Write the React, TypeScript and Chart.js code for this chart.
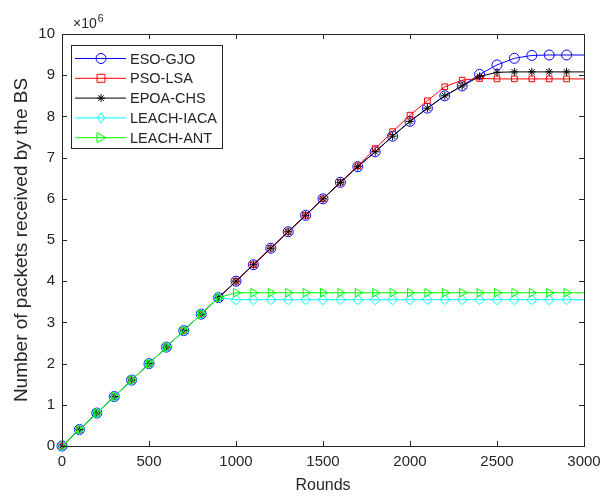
import React, { useEffect, useRef } from "react";
import { Chart, registerables } from "chart.js";

Chart.register(...registerables);

const rounds = [0, 100, 200, 300, 400, 500, 600, 700, 800, 900, 1000, 1100, 1200, 1300, 1400, 1500, 1600, 1700, 1800, 1900, 2000, 2100, 2200, 2300, 2400, 2500, 2600, 2700, 2800, 2900, 3000];

// values in units of 10^6 packets
const esoGjo = [0, 0.4, 0.8, 1.2, 1.6, 2.0, 2.4, 2.8, 3.2, 3.6, 4.0, 4.4, 4.8, 5.2, 5.6, 6.0, 6.4, 6.78, 7.14, 7.52, 7.88, 8.2, 8.5, 8.74, 9.02, 9.25, 9.41, 9.48, 9.49, 9.49, 9.49];
const psoLsa = [0, 0.4, 0.8, 1.2, 1.6, 2.0, 2.4, 2.8, 3.2, 3.6, 4.0, 4.4, 4.8, 5.2, 5.6, 6.0, 6.4, 6.8, 7.22, 7.63, 8.03, 8.38, 8.72, 8.88, 8.92, 8.91, 8.91, 8.91, 8.91, 8.91, 8.91];
const epoaChs = [0, 0.4, 0.8, 1.2, 1.6, 2.0, 2.4, 2.8, 3.2, 3.6, 4.0, 4.4, 4.8, 5.2, 5.6, 6.0, 6.4, 6.78, 7.14, 7.52, 7.88, 8.2, 8.5, 8.74, 8.97, 9.07, 9.08, 9.08, 9.08, 9.08, 9.08];
const leachIaca = [0, 0.4, 0.8, 1.2, 1.6, 2.0, 2.4, 2.8, 3.2, 3.6, 3.55, 3.55, 3.55, 3.55, 3.55, 3.55, 3.55, 3.55, 3.55, 3.55, 3.55, 3.55, 3.55, 3.55, 3.55, 3.55, 3.55, 3.55, 3.55, 3.55, 3.55];
const leachAnt = [0, 0.4, 0.8, 1.2, 1.6, 2.0, 2.4, 2.8, 3.2, 3.6, 3.72, 3.72, 3.72, 3.72, 3.72, 3.72, 3.72, 3.72, 3.72, 3.72, 3.72, 3.72, 3.72, 3.72, 3.72, 3.72, 3.72, 3.72, 3.72, 3.72, 3.72];

const seriesNames = ["ESO-GJO", "PSO-LSA", "EPOA-CHS", "LEACH-IACA", "LEACH-ANT"];
const xTicks = [0, 500, 1000, 1500, 2000, 2500, 3000];
const yTicks = [0, 1, 2, 3, 4, 5, 6, 7, 8, 9, 10];
const xTitle = "Rounds";
const yTitle = "Number of packets received by the BS";
const exponentBase = "×10";
const exponentPower = "6";

const FONT = "'Liberation Sans', Arial, sans-serif";
const AXIS = "#262626";

type Marker = "circle" | "square" | "star" | "diamond" | "tri";

const styles: { color: string; marker: Marker; r: number }[] = [
  { color: "#0000ff", marker: "circle", r: 5 },
  { color: "#ff0000", marker: "square", r: 4 },
  { color: "#000000", marker: "star", r: 4 },
  { color: "#00ffff", marker: "diamond", r: 5 },
  { color: "#00ff00", marker: "tri", r: 5 },
];

function drawMarker(ctx: CanvasRenderingContext2D, m: Marker, x: number, y: number, r: number, color: string) {
  ctx.save();
  ctx.strokeStyle = color;
  ctx.lineWidth = 1;
  ctx.beginPath();
  if (m === "circle") {
    ctx.arc(x, y, r, 0, Math.PI * 2);
  } else if (m === "square") {
    ctx.rect(x - r, y - r, 2 * r, 2 * r);
  } else if (m === "star") {
    ctx.moveTo(x - r, y); ctx.lineTo(x + r, y);
    ctx.moveTo(x, y - r); ctx.lineTo(x, y + r);
    const d = r * 0.707;
    ctx.moveTo(x - d, y - d); ctx.lineTo(x + d, y + d);
    ctx.moveTo(x - d, y + d); ctx.lineTo(x + d, y - d);
  } else if (m === "diamond") {
    ctx.moveTo(x, y - r); ctx.lineTo(x + r * 0.75, y); ctx.lineTo(x, y + r); ctx.lineTo(x - r * 0.75, y); ctx.closePath();
  } else {
    ctx.moveTo(x + r, y); ctx.lineTo(x - r * 0.8, y - r); ctx.lineTo(x - r * 0.8, y + r); ctx.closePath();
  }
  ctx.stroke();
  ctx.restore();
}

const pointStyleFor = (m: Marker) =>
  m === "circle" ? "circle" : m === "square" ? "rect" : m === "star" ? "star" : m === "diamond" ? "rectRot" : "triangle";

const decorPlugin = {
  id: "decor",
  afterDatasetsDraw(chart: any) {
    const { ctx, chartArea: a, scales } = chart;
    ctx.save();
    ctx.strokeStyle = AXIS;
    ctx.lineWidth = 1;
    ctx.beginPath();
    const tl = 5;
    for (const v of xTicks) {
      const px = Math.round(scales.x.getPixelForValue(v)) + 0.5;
      ctx.moveTo(px, a.bottom); ctx.lineTo(px, a.bottom - tl);
      ctx.moveTo(px, a.top); ctx.lineTo(px, a.top + tl);
    }
    for (const v of yTicks) {
      const py = Math.round(scales.y.getPixelForValue(v)) + 0.5;
      ctx.moveTo(a.left, py); ctx.lineTo(a.left + tl, py);
      ctx.moveTo(a.right, py); ctx.lineTo(a.right - tl, py);
    }
    ctx.stroke();
    ctx.strokeRect(Math.round(a.left) + 0.5, Math.round(a.top) + 0.5, Math.round(a.right - a.left), Math.round(a.bottom - a.top));
    ctx.restore();
  },
  afterDraw(chart: any) {
    const { ctx, chartArea: a } = chart;
    ctx.save();
    // exponent label
    ctx.fillStyle = AXIS;
    ctx.textBaseline = "alphabetic";
    ctx.textAlign = "left";
    ctx.font = `14px ${FONT}`;
    ctx.fillText(exponentBase, a.left + 11, 28);
    const w = ctx.measureText(exponentBase).width;
    ctx.font = `10.5px ${FONT}`;
    ctx.fillText(exponentPower, a.left + 11 + w + 1, 22);

    // legend
    const bx = 71.5, by = 45.5, bw = 151, bh = 103;
    ctx.fillStyle = "#ffffff";
    ctx.fillRect(bx, by, bw, bh);
    ctx.strokeStyle = AXIS;
    ctx.lineWidth = 1;
    ctx.strokeRect(bx, by, bw, bh);
    ctx.font = `14.5px ${FONT}`;
    ctx.textBaseline = "middle";
    seriesNames.forEach((name, i) => {
      const y = 58.5 + i * 19.8;
      const s = styles[i];
      ctx.strokeStyle = s.color;
      ctx.lineWidth = 1;
      ctx.beginPath();
      ctx.moveTo(75, y); ctx.lineTo(126, y);
      ctx.stroke();
      drawMarker(ctx, s.marker, 101, y, s.r, s.color);
      ctx.fillStyle = AXIS;
      ctx.fillText(name, 130, y + 1);
    });
    ctx.restore();
  },
};

export default function App() {
  const ref = useRef<HTMLCanvasElement | null>(null);
  useEffect(() => {
    document.body.style.margin = "0";
    const series = [esoGjo, psoLsa, epoaChs, leachIaca, leachAnt];
    const last = rounds.length - 1;
    const datasets = series.map((vals, i) => ({
      label: seriesNames[i],
      data: rounds.map((r, j) => ({ x: r, y: vals[j] })),
      borderColor: styles[i].color,
      backgroundColor: "transparent",
      borderWidth: 1,
      pointStyle: pointStyleFor(styles[i].marker),
      pointRotation: styles[i].marker === "tri" ? 90 : 0,
      pointRadius: (c: any) => (c.dataIndex === last ? 0 : styles[i].r),
      pointBorderColor: styles[i].color,
      pointBackgroundColor: "transparent",
      pointBorderWidth: 1,
      tension: 0,
      clip: false as any,
      order: 5 - i,
    }));
    const chart = new Chart(ref.current!, {
      type: "line",
      data: { datasets },
      plugins: [decorPlugin],
      options: {
        animation: false,
        responsive: false,
        devicePixelRatio: 1,
        layout: { padding: { left: 0, top: 34, right: 19, bottom: 0 } },
        plugins: { legend: { display: false }, tooltip: { enabled: false } },
        scales: {
          x: {
            type: "linear",
            min: 0,
            max: 3000,
            afterBuildTicks: (s: any) => { s.ticks = xTicks.map((v) => ({ value: v })); },
            afterFit: (s: any) => { s.height = 53; s.paddingLeft = 0; s.paddingRight = 0; },
            grid: { display: false, drawTicks: false },
            border: { display: false },
            ticks: { color: AXIS, font: { family: FONT, size: 15 }, padding: 7, maxRotation: 0, autoSkip: false, callback: (v: any) => String(v) },
            title: { display: true, text: xTitle, color: AXIS, font: { family: FONT, size: 16 }, padding: { top: 0, bottom: 4 } },
          },
          y: {
            type: "linear",
            min: 0,
            max: 10,
            afterBuildTicks: (s: any) => { s.ticks = yTicks.map((v) => ({ value: v })); },
            afterFit: (s: any) => { s.width = 62; s.paddingTop = 0; s.paddingBottom = 0; },
            grid: { display: false, drawTicks: false },
            border: { display: false },
            ticks: { color: AXIS, font: { family: FONT, size: 15 }, padding: 7, autoSkip: false, callback: (v: any) => String(v) },
            title: { display: true, text: yTitle, color: AXIS, font: { family: FONT, size: 19 }, padding: { top: 10, bottom: 0 } },
          },
        },
      },
    });
    return () => chart.destroy();
  }, []);
  return <canvas ref={ref} width={603} height={499} style={{ display: "block" }} />;
}
